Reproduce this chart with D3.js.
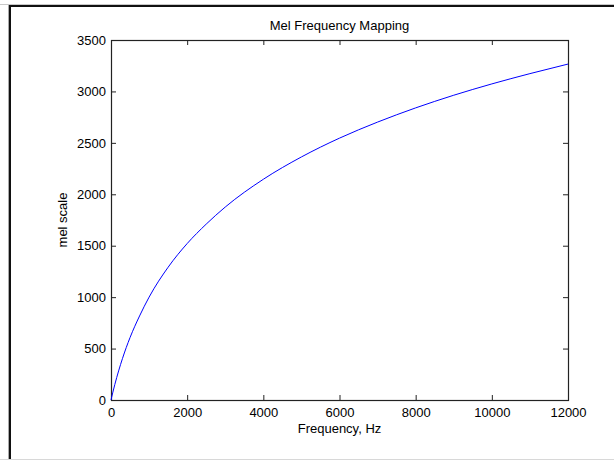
<!DOCTYPE html>
<html>
<head>
<meta charset="utf-8">
<script src="https://cdn.jsdelivr.net/npm/d3@7"></script>
<style>
  html, body { margin: 0; padding: 0; background: #fff; }
  svg { display: block; }
  text { font-family: "Liberation Sans", Arial, Helvetica, sans-serif; fill: #000; }
</style>
</head>
<body>
<svg id="chart" width="614" height="461"></svg>
<script>
// Data
const frequencyHz = [0, 50, 100, 200, 300, 500, 750, 1000, 1500, 2000, 2500, 3000, 4000, 5000, 6000, 7000, 8000, 9000, 10000, 11000, 12000];
const melValues   = [0, 77, 150, 283, 402, 607, 817, 1000, 1291, 1521, 1710, 1876, 2146, 2363, 2546, 2702, 2840, 2963, 3073, 3173, 3266];
const xTicks = [0, 2000, 4000, 6000, 8000, 10000, 12000];
const yTicks = [0, 500, 1000, 1500, 2000, 2500, 3000, 3500];
const titleText = "Mel Frequency Mapping";
const xLabelText = "Frequency, Hz";
const yLabelText = "mel scale";

const svg = d3.select("#chart");
const W = 614, H = 461;
const plot = { left: 111, top: 40, right: 568, bottom: 400 };
const fontSize = "13px";

// Outer frame
svg.append("line").attr("x1", 0).attr("x2", W).attr("y1", 4.5).attr("y2", 4.5).attr("stroke", "#c8c8c8");
svg.append("line").attr("x1", 0).attr("x2", W).attr("y1", 459.5).attr("y2", 459.5).attr("stroke", "#d8d8d8");
svg.append("line").attr("x1", 8.5).attr("x2", 8.5).attr("y1", 5).attr("y2", 459).attr("stroke", "#aaaaaa");
svg.append("line").attr("x1", 9).attr("x2", W).attr("y1", 6).attr("y2", 6).attr("stroke", "#111").attr("stroke-width", 2);
svg.append("line").attr("x1", 10).attr("x2", 10).attr("y1", 5).attr("y2", 459).attr("stroke", "#111").attr("stroke-width", 2);

const x = d3.scaleLinear().domain([0, 12000]).range([plot.left, plot.right]);
const y = d3.scaleLinear().domain([0, 3500]).range([plot.bottom, plot.top]);

const tickLen = 5;
const axisColor = "#222";

function styleAxis(g) {
  g.select(".domain").remove();
  g.selectAll(".tick line").attr("stroke", axisColor);
  g.selectAll(".tick text").style("font-size", fontSize).attr("fill", "#000");
}

// bottom axis (ticks inward)
svg.append("g").attr("transform", `translate(0,${plot.bottom})`)
  .call(d3.axisBottom(x).tickValues(xTicks).tickFormat(d3.format("d")).tickSizeInner(-tickLen).tickSizeOuter(0).tickPadding(8))
  .call(styleAxis);
// top axis ticks
svg.append("g").attr("transform", `translate(0,${plot.top})`)
  .call(d3.axisTop(x).tickValues(xTicks).tickFormat("").tickSizeInner(-tickLen).tickSizeOuter(0))
  .call(styleAxis);
// left axis
svg.append("g").attr("transform", `translate(${plot.left},0)`)
  .call(d3.axisLeft(y).tickValues(yTicks).tickFormat(d3.format("d")).tickSizeInner(-tickLen).tickSizeOuter(0).tickPadding(5))
  .call(styleAxis);
// right axis ticks
svg.append("g").attr("transform", `translate(${plot.right},0)`)
  .call(d3.axisRight(y).tickValues(yTicks).tickFormat("").tickSizeInner(-tickLen).tickSizeOuter(0))
  .call(styleAxis);

// box
svg.append("rect")
  .attr("x", plot.left + 0.5).attr("y", plot.top + 0.5)
  .attr("width", plot.right - plot.left).attr("height", plot.bottom - plot.top)
  .attr("fill", "none").attr("stroke", axisColor).attr("stroke-width", 1.2);

// curve
const line = d3.line().x((d, i) => x(frequencyHz[i])).y(d => y(d)).curve(d3.curveMonotoneX);
svg.append("path").datum(melValues)
  .attr("d", line)
  .attr("fill", "none").attr("stroke", "#0000ff").attr("stroke-width", 1);

// labels
svg.append("text").attr("x", (plot.left + plot.right) / 2).attr("y", 30)
  .attr("text-anchor", "middle").style("font-size", fontSize).text(titleText);
svg.append("text").attr("x", (plot.left + plot.right) / 2).attr("y", 433)
  .attr("text-anchor", "middle").style("font-size", fontSize).text(xLabelText);
svg.append("text").attr("transform", `translate(67,${(plot.top + plot.bottom) / 2}) rotate(-90)`)
  .attr("text-anchor", "middle").style("font-size", fontSize).text(yLabelText);
</script>
</body>
</html>
